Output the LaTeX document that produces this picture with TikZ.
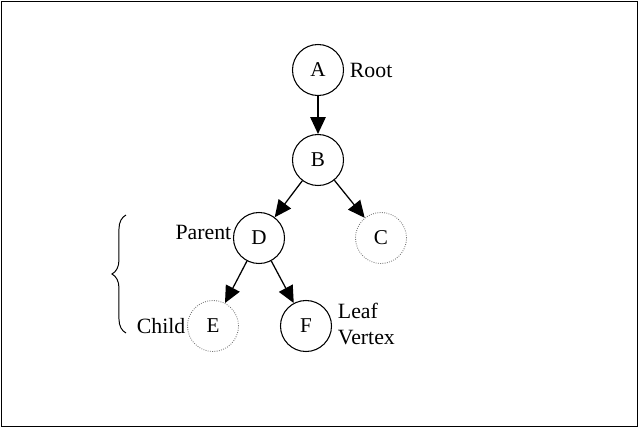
\documentclass[tikz,border=0pt]{standalone}
\usepackage{fontspec}
\setmainfont{Liberation Serif}
\usetikzlibrary{arrows.meta, decorations.pathreplacing}
\tikzset{
  vertex/.style={circle, minimum size=1.275cm, inner sep=0pt, text centered, draw=black, line width=0.75pt, font=\fontsize{15}{18}\selectfont},
  ghost/.style={vertex, draw=black!55, line width=0.6pt, densely dotted},
  tag/.style={font=\fontsize{15.5}{18}\selectfont, inner sep=1pt},
  arrow/.style={line width=0.9pt, -{Triangle[length=12pt, width=11pt]}}
}
\begin{document}
\begin{tikzpicture}[x=0.025cm, y=-0.025cm]

        % frame
        \useasboundingbox (0,0) rectangle (639,428);
        \draw[line width=0.6pt] (1.5,1.5) rectangle (637.5,426.5);

        % Vertices
        \node (a) [vertex] at (318,70) {A};
        \node (b) [vertex] at (318,160) {B};
        \node (d) [vertex] at (259,238) {D};
        \node (c) [ghost] at (381,238) {C};
        \node (e) [ghost] at (213,326) {E};
        \node (f) [vertex] at (306,326) {F};

        % Labels
        \node (root) [tag, anchor=west] at ([xshift=3pt]a.east) {Root};
        \node (parent) [tag, anchor=east] at ([yshift=4pt]d.west) {Parent};
        \node (child) [tag, anchor=east] at (e.west) {Child};
        \node (leaf) [tag, anchor=west, align=left] at ([xshift=3pt,yshift=1.5pt]f.east) {Leaf\\Vertex};

        % Arrows
        \draw [arrow] (a) -- (b);
        \draw [arrow] (b) -- (d);
        \draw [arrow] (b) -- (c);
        \draw [arrow] (d) -- (e);
        \draw [arrow] (d) -- (f);

        % Parent / child brace
        \coordinate (btop) at (126,215);
        \coordinate (bbot) at (126,333);
        \draw [line width=0.7pt, decorate, decoration={brace, amplitude=10}] (bbot) -- (btop);
        \end{tikzpicture}
\end{document}
